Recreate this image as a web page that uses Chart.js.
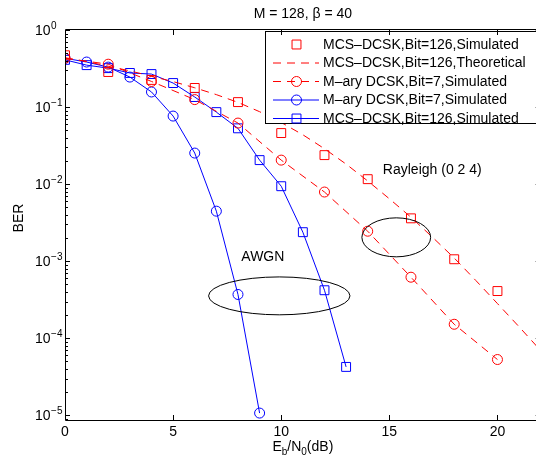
<!DOCTYPE html>
<html>
<head>
<meta charset="utf-8">
<title>BER chart</title>
<script src="https://cdn.jsdelivr.net/npm/chart.js@4.4.0/dist/chart.umd.min.js"></script>
<style>
  html, body { margin: 0; padding: 0; background: #fff; overflow: hidden; }
  #wrap { width: 548px; height: 458px; }
</style>
</head>
<body>
<div id="wrap"><canvas id="ber-chart" width="548" height="458"></canvas></div>
<script>
// --- data ---
const snrRayleigh = [0, 2, 4, 6, 8, 10, 12, 14, 16, 18, 20];
const mcsRayleighSim = [0.47, 0.285, 0.225, 0.177, 0.116, 0.046, 0.0238, 0.0116, 0.0036, 0.00106, 0.00041];
const maryRayleighSim = [0.43, 0.36, 0.215, 0.125, 0.062, 0.0205, 0.0079, 0.00245, 0.00062, 0.000152, 0.000053];

const snrTheory = [0, 1, 2, 3, 4, 5, 6, 7, 8, 9, 10, 11, 12, 13, 14, 15, 16, 17, 18, 19, 20, 21, 22];
const mcsRayleighTheory = [0.437, 0.389, 0.339, 0.295, 0.251, 0.214, 0.178, 0.145, 0.115, 0.0871, 0.0631,
  0.0437, 0.0288, 0.0182, 0.011, 0.00646, 0.00372, 0.00204, 0.0011, 0.000562, 0.000282, 0.000141, 0.0000692];

const snrMaryAwgn = [0, 1, 2, 3, 4, 5, 6, 7, 8, 9];
const maryAwgnSim = [0.43, 0.384, 0.33, 0.245, 0.157, 0.0764, 0.0253, 0.00446, 0.00037, 0.0000107];

const snrMcsAwgn = [0, 1, 2, 3, 4, 5, 6, 7, 8, 9, 10, 11, 12, 13];
const mcsAwgnSim = [0.41, 0.35, 0.32, 0.277, 0.268, 0.205, 0.135, 0.086, 0.053, 0.0205, 0.0094, 0.00238, 0.00042, 0.0000425];

const xTicks = [0, 5, 10, 15, 20];
const yTickPowers = [0, -1, -2, -3, -4, -5];

const legendLabels = [
  "MCS\u2013DCSK,Bit=126,Simulated",
  "MCS\u2013DCSK,Bit=126,Theoretical",
  "M\u2013ary DCSK,Bit=7,Simulated",
  "M\u2013ary DCSK,Bit=7,Simulated",
  "MCS\u2013DCSK,Bit=126,Simulated",
];
const titleText = "M = 128, \u03b2 = 40";

// annotations (data coordinates)
const notes = {
  rayleigh: { text: "Rayleigh (0 2 4)", x: 14.7, y: 0.0153 },
  awgn: { text: "AWGN", x: 9.15, y: 0.00114 },
  ellipses: [
    { x: 15.32, y: 0.00204, halfDb: 1.59, halfDecades: 0.253 },
    { x: 9.91, y: 0.000355, halfDb: 3.27, halfDecades: 0.246 },
  ],
};

const RED = "#ff0000";
const BLUE = "#0000ff";
const FONT = "'Liberation Sans', Arial, Helvetica, sans-serif";
const DASH = [8, 6];

function pts(xs, ys) {
  return xs.map((x, i) => ({ x: x, y: ys[i] }));
}

function markerPath(ctx, style, x, y, r) {
  ctx.beginPath();
  if (style === "circle") {
    ctx.arc(x, y, r, 0, Math.PI * 2);
  } else {
    const s = r * Math.SQRT1_2;
    ctx.rect(x - s, y - s, 2 * s, 2 * s);
  }
  ctx.stroke();
}

// axes box, inward ticks, log labels with exponents, titles
const matlabAxes = {
  id: "matlabAxes",
  afterDatasetsDraw(chart) {
    const ctx = chart.ctx;
    const area = chart.chartArea;
    const xs = chart.scales.x;
    const ys = chart.scales.y;
    ctx.save();

    // annotations
    ctx.strokeStyle = "#000";
    ctx.lineWidth = 1;
    notes.ellipses.forEach((e) => {
      const cx = xs.getPixelForValue(e.x);
      const cy = ys.getPixelForValue(e.y);
      const rx = xs.getPixelForValue(e.x + e.halfDb) - cx;
      const ry = cy - ys.getPixelForValue(e.y * Math.pow(10, e.halfDecades));
      ctx.beginPath();
      ctx.ellipse(cx, cy, rx, ry, 0, 0, Math.PI * 2);
      ctx.stroke();
    });
    ctx.fillStyle = "#000";
    ctx.font = "14px " + FONT;
    ctx.textBaseline = "middle";
    ctx.textAlign = "left";
    ctx.fillText(notes.rayleigh.text, xs.getPixelForValue(notes.rayleigh.x), ys.getPixelForValue(notes.rayleigh.y));
    ctx.textAlign = "center";
    ctx.fillText(notes.awgn.text, xs.getPixelForValue(notes.awgn.x), ys.getPixelForValue(notes.awgn.y));

    // legend
    const lg = { left: 265.5, top: 31.5, right: 600, bottom: 123.5 };
    ctx.fillStyle = "#fff";
    ctx.fillRect(lg.left, lg.top, lg.right - lg.left, lg.bottom - lg.top);
    ctx.strokeStyle = "#000";
    ctx.strokeRect(lg.left, lg.top, lg.right - lg.left, lg.bottom - lg.top);
    chart.data.datasets.forEach((ds, i) => {
      const y = 44.5 + i * 18.5;
      ctx.strokeStyle = ds.borderColor;
      ctx.lineWidth = 1;
      if (ds.showLine !== false) {
        ctx.setLineDash(ds.borderDash || []);
        ctx.beginPath();
        ctx.moveTo(273, y);
        ctx.lineTo(319, y);
        ctx.stroke();
        ctx.setLineDash([]);
      }
      if (ds.pointRadius > 0) {
        markerPath(ctx, ds.pointStyle, 296.5, y, ds.pointRadius);
      }
      ctx.fillStyle = "#000";
      ctx.font = "14px " + FONT;
      ctx.textAlign = "left";
      ctx.textBaseline = "middle";
      ctx.fillText(legendLabels[i], 323, y + 0.5);
    });

    // box
    ctx.strokeStyle = "#000";
    ctx.lineWidth = 1;
    ctx.beginPath();
    ctx.moveTo(area.left + 0.5, area.top - 0.5);
    ctx.lineTo(area.right, area.top - 0.5);
    ctx.moveTo(area.left + 0.5, area.top - 0.5);
    ctx.lineTo(area.left + 0.5, area.bottom + 0.5);
    ctx.lineTo(area.right, area.bottom + 0.5);
    ctx.lineTo(area.right, area.top - 0.5);
    ctx.stroke();

    // x ticks (bottom and top, inward)
    ctx.beginPath();
    xTicks.forEach((v) => {
      const px = Math.round(xs.getPixelForValue(v)) + 0.5;
      ctx.moveTo(px, area.bottom);
      ctx.lineTo(px, area.bottom - 5);
      ctx.moveTo(px, area.top);
      ctx.lineTo(px, area.top + 5);
    });
    // y ticks, major and minor
    for (let p = -6; p <= 0; p++) {
      for (let m = 1; m <= 9; m++) {
        const v = m * Math.pow(10, p);
        if (v < ys.min || v > ys.max) continue;
        const py = Math.round(ys.getPixelForValue(v)) + 0.5;
        const len = m === 1 ? 5 : 3;
        ctx.moveTo(area.left, py);
        ctx.lineTo(area.left + len, py);
        ctx.moveTo(area.right, py);
        ctx.lineTo(area.right - len, py);
      }
    }
    ctx.stroke();

    // y tick labels 10^n
    ctx.fillStyle = "#000";
    ctx.textAlign = "left";
    ctx.textBaseline = "middle";
    yTickPowers.forEach((p) => {
      const py = ys.getPixelForValue(Math.pow(10, p));
      ctx.font = "14px " + FONT;
      ctx.fillText("10", 35, py + 1);
      const w = ctx.measureText("10").width;
      ctx.font = "10px " + FONT;
      ctx.fillText(p === 0 ? "0" : "\u2212" + (-p), 35 + w + 0.5, py - 4);
    });

    // x axis title E_b/N_0(dB)
    const parts = [
      { t: "E", sub: false }, { t: "b", sub: true }, { t: "/N", sub: false },
      { t: "0", sub: true }, { t: "(dB)", sub: false },
    ];
    let total = 0;
    parts.forEach((pt) => {
      ctx.font = (pt.sub ? "10px " : "14px ") + FONT;
      pt.w = ctx.measureText(pt.t).width;
      total += pt.w;
    });
    let cx = (area.left + area.right) / 2 - total / 2;
    ctx.textBaseline = "alphabetic";
    parts.forEach((pt) => {
      ctx.font = (pt.sub ? "10px " : "14px ") + FONT;
      ctx.fillText(pt.t, cx, pt.sub ? 455 : 450.5);
      cx += pt.w;
    });

    // y axis title
    ctx.save();
    ctx.translate(19, 218);
    ctx.rotate(-Math.PI / 2);
    ctx.font = "14px " + FONT;
    ctx.textAlign = "center";
    ctx.textBaseline = "middle";
    ctx.fillText("BER", 0, 0);
    ctx.restore();

    // plot title
    ctx.font = "14px " + FONT;
    ctx.textAlign = "center";
    ctx.textBaseline = "middle";
    ctx.fillText(titleText, (area.left + area.right) / 2, 14);

    ctx.restore();
  },
};

const ctx = document.getElementById("ber-chart").getContext("2d");

new Chart(ctx, {
  type: "line",
  data: {
    datasets: [
      {
        label: legendLabels[0],
        data: pts(snrRayleigh, mcsRayleighSim),
        showLine: false,
        borderColor: RED,
        pointStyle: "rect",
        pointRadius: 6.3,
        pointBorderColor: RED,
        pointBackgroundColor: "rgba(0,0,0,0)",
        pointBorderWidth: 1,
      },
      {
        label: legendLabels[1],
        data: pts(snrTheory, mcsRayleighTheory),
        borderColor: RED,
        borderWidth: 1,
        borderDash: DASH,
        pointRadius: 0,
      },
      {
        label: legendLabels[2],
        data: pts(snrRayleigh, maryRayleighSim),
        borderColor: RED,
        borderWidth: 1,
        borderDash: DASH,
        pointStyle: "circle",
        pointRadius: 5,
        pointBorderColor: RED,
        pointBackgroundColor: "rgba(0,0,0,0)",
        pointBorderWidth: 1,
      },
      {
        label: legendLabels[3],
        data: pts(snrMaryAwgn, maryAwgnSim),
        borderColor: BLUE,
        borderWidth: 1,
        pointStyle: "circle",
        pointRadius: 5,
        pointBorderColor: BLUE,
        pointBackgroundColor: "rgba(0,0,0,0)",
        pointBorderWidth: 1,
      },
      {
        label: legendLabels[4],
        data: pts(snrMcsAwgn, mcsAwgnSim),
        borderColor: BLUE,
        borderWidth: 1,
        pointStyle: "rect",
        pointRadius: 6.3,
        pointBorderColor: BLUE,
        pointBackgroundColor: "rgba(0,0,0,0)",
        pointBorderWidth: 1,
      },
    ],
  },
  options: {
    responsive: false,
    animation: false,
    layout: { padding: { top: 30, left: 0, right: 6, bottom: 0 } },
    plugins: {
      legend: { display: false },
      tooltip: { enabled: false },
      title: { display: false },
    },
    scales: {
      x: {
        type: "linear",
        min: 0,
        max: 22,
        afterBuildTicks: (scale) => {
          scale.ticks = xTicks.map((v) => ({ value: v }));
        },
        afterFit: (scale) => {
          scale.height = 38;
        },
        grid: { display: false, drawTicks: false },
        border: { display: false },
        ticks: {
          color: "#000",
          padding: 4,
          maxRotation: 0,
          font: { family: FONT, size: 14 },
        },
      },
      y: {
        type: "logarithmic",
        min: 8.7e-6,
        max: 1,
        afterFit: (scale) => {
          scale.width = 65;
        },
        grid: { display: false, drawTicks: false },
        border: { display: false },
        ticks: { display: false },
      },
    },
  },
  plugins: [matlabAxes],
});
</script>
</body>
</html>
